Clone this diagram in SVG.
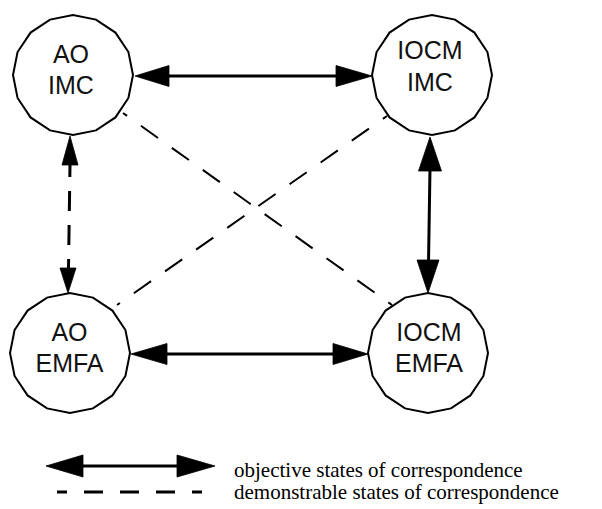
<svg xmlns="http://www.w3.org/2000/svg" xmlns:xlink="http://www.w3.org/1999/xlink" width="602" height="509" viewBox="0 0 602 509">
<style>
.ring{fill:#fff;stroke:#000;stroke-width:2}
.lbl{font-family:"Liberation Sans",Arial,sans-serif;font-size:25px;fill:#111;text-anchor:middle}
.solid{stroke:#000;stroke-width:3;fill:none}
.dash{stroke:#000;stroke-width:3;fill:none}
.diag{stroke:#000;stroke-width:2;fill:none;stroke-dasharray:21 17;stroke-dashoffset:16}
.head{fill:#000;stroke:#000;stroke-width:0.8;stroke-linejoin:miter}
.leg{font-family:"Liberation Serif","Times New Roman",serif;font-size:21px;fill:#000}
</style>
<defs>
<polygon id="ring" class="ring" points="60,0 55.43,22.96 42.43,42.43 22.96,55.43 0,60 -22.96,55.43 -42.43,42.43 -55.43,22.96 -60,0 -55.43,-22.96 -42.43,-42.43 -22.96,-55.43 0,-60 22.96,-55.43 42.43,-42.43 55.43,-22.96"/>
</defs>
<rect width="602" height="509" fill="#fff"/>
<g id="connectors">
<line class="diag" x1="123" y1="113" x2="392" y2="305"/>
<line class="diag" x1="387" y1="116" x2="117" y2="305"/>
<line class="solid" x1="166" y1="76" x2="340" y2="76"/>
<polygon class="head" points="135,76 169,65.5 169,86.5"/>
<polygon class="head" points="372,76 336,65.5 336,86.5"/>
<line class="solid" x1="164" y1="354" x2="336" y2="354"/>
<polygon class="head" points="131,354 167,343.5 167,364.5"/>
<polygon class="head" points="368,354 333,343.5 333,364.5"/>
<line class="solid" x1="430" y1="168" x2="428.5" y2="263"/>
<polygon class="head" points="430,137 418.5,171 441.5,171"/>
<polygon class="head" points="428,293 417,260 439,260"/>
<line class="dash" x1="70" y1="165" x2="68.5" y2="268" style="stroke-dasharray:20 14;stroke-dashoffset:8"/>
<polygon class="head" points="70,136 62,165 78,165"/>
<polygon class="head" points="68,293 60,268 76,268"/>
</g>
<g id="n-ao-imc">
<use xlink:href="#ring" x="73" y="75"/>
<text class="lbl" x="71" y="63">AO</text>
<text class="lbl" x="71" y="94">IMC</text>
</g>
<g id="n-iocm-imc">
<use xlink:href="#ring" x="432" y="75"/>
<text class="lbl" x="430" y="59">IOCM</text>
<text class="lbl" x="430" y="91">IMC</text>
</g>
<g id="n-ao-emfa">
<use xlink:href="#ring" x="70" y="353"/>
<text class="lbl" x="69.5" y="341">AO</text>
<text class="lbl" x="69.5" y="372">EMFA</text>
</g>
<g id="n-iocm-emfa">
<use xlink:href="#ring" x="428" y="353"/>
<text class="lbl" x="429" y="341">IOCM</text>
<text class="lbl" x="429" y="372">EMFA</text>
</g>
<g id="legend">
<line class="solid" x1="80" y1="466" x2="180" y2="466"/>
<polygon class="head" points="46,466 83,455 83,477"/>
<polygon class="head" points="215,466 177,455 177,477"/>
<line class="dash" x1="57" y1="492" x2="202" y2="492" style="stroke-dasharray:19 17;stroke-dashoffset:9"/>
<text class="leg" x="234" y="477">objective states of correspondence</text>
<text class="leg" x="234" y="499">demonstrable states of correspondence</text>
</g>
</svg>
